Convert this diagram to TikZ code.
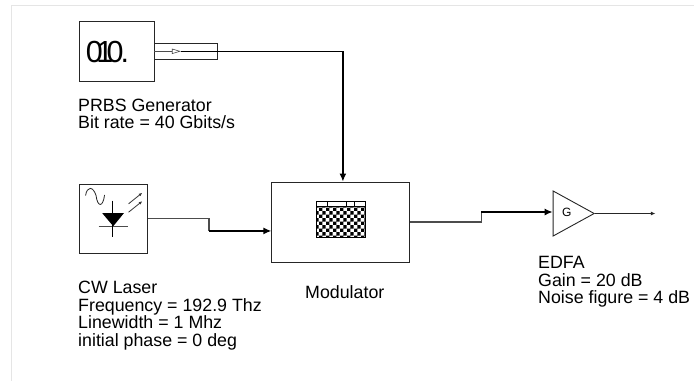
\documentclass[tikz,border=0pt]{standalone}
\usepackage{fontspec}
\setmainfont{Liberation Sans}
\usetikzlibrary{calc,
patterns,
shapes.geometric,
arrows.meta,
positioning}
\pgfdeclarepatternformonly{chipcells}{\pgfqpoint{0pt}{0pt}}{\pgfqpoint{6.8pt}{6.8pt}}{\pgfqpoint{6.8pt}{6.8pt}}{
  \pgfpathrectangle{\pgfqpoint{0pt}{0pt}}{\pgfqpoint{3.4pt}{3.4pt}}
  \pgfpathrectangle{\pgfqpoint{3.4pt}{3.4pt}}{\pgfqpoint{3.4pt}{3.4pt}}
  \pgfusepath{fill}
}

\begin{document}
\begin{tikzpicture} [x=1pt,
    y=1pt,
    >=latex,
    main node/.style={rectangle, draw = black!85, fill = white,
        line width = 0.9pt, inner sep = 0pt},
    main text/.style={align=left, inner sep = 0pt,
        font=\fontsize{17.8}{17.6}\selectfont},
    main line/.style={draw = black!70, line width = 1.2pt},
    thick line/.style={draw = black, line width = 1.8pt,
        >={Latex[length=8pt, width=7pt]}}
  ]

  \useasboundingbox (0, 0) rectangle (694, -381);
  \draw [black!10, line width = 1pt] (11.5, -381) -- (11.5, -5.5) -- (694, -5.5);

  \node [main node,
    minimum width = 75pt,
    minimum height = 60.5pt
  ] (prbs) at (116.5, -51.3) {};

  \node [main node,
    minimum width = 62.4pt,
    minimum height = 16.6pt,
    right = 0pt of prbs
  ] (wrap) {};

  \node [font=\fontsize{30.5}{30.5}\selectfont,
    inner sep = 0pt,
    at = (prbs.center),
    xshift = -9pt,
    yshift = -1pt
  ] (bits) {0\kern-6.5pt1\kern-6.5pt0\kern-3pt.};

  \node [isosceles triangle,
    draw = black!70,
    fill = white,
    line width = 0.6pt,
    inner sep = 0pt,
    minimum width = 4.6pt,
    minimum height = 7.6pt,
    isosceles triangle stretches,
    right = 17.5pt of wrap.west
  ] (pulse) {};

  \node [main node,
    minimum width = 68pt,
    minimum height = 69pt,
    below = 101.5pt of prbs.south west,
    anchor = north west,
    xshift = 0.5pt
  ] (laser) {};

  \node [main node,
    minimum width = 138pt,
    minimum height = 80pt,
    right = 123.5pt of laser.north east,
    anchor = north west,
    yshift = 2pt
  ] (mod) {};

  \node [draw = black, fill = white,
    line width = 0.8pt,
    minimum width = 48.5pt,
    minimum height = 36pt,
    inner sep = 0pt
  ] (chip) at ($(mod.center) + (0, 2.5)$) {};
  \fill [pattern = chipcells] ($(chip.north west) + (0, -5.5)$) rectangle (chip.south east);
  \draw [black, line width = 0.8pt] ($(chip.north west) + (0, -5.5)$) -- ($(chip.north east) + (0, -5.5)$);
  \foreach \x in {10.7, 29.7, 38.3}
    \draw [black, line width = 0.8pt] ($(chip.north west) + (\x, 0)$) -- ($(chip.north west) + (\x, -5.5)$);

  \node [isosceles triangle,
    draw = black!85,
    fill = white,
    line width = 0.9pt,
    inner sep = 0pt,
    minimum width = 45pt,
    minimum height = 41pt,
    isosceles triangle stretches,
    anchor = west
  ] (amp) at (552.7, -213.5) {};
  \node [inner sep = 0pt, font=\fontsize{12}{12}\selectfont] (gain) at (566.7, -212.5) {G};

  %%%%%%%%%%%%%%%%%%%%%%%%%%%%%%

  \begin{scope}[shift={(laser.north west)}, black, line width = 0.8pt]
    \draw [black!85] (6.5, -12) .. controls (8, -2.5) and (14, -2.5) .. (17, -12)
      .. controls (18.5, -24) and (24, -24) .. (25.5, -11.5);
    \fill (23.2, -29.7) -- (44.8, -29.7) -- (34.2, -42.7) -- cycle;
    \draw [black!70] (19.5, -42.7) -- (48.5, -42.7);
    \draw (33.8, -17) -- (33.8, -53.7);
    \draw [->, black!80, >={Latex[length=3.5pt, width=3pt]}] (49.5, -20.3) -- (63.2, -9.3);
    \draw [->, black!80, >={Latex[length=3.5pt, width=3pt]}] (49.5, -28.7) -- (63.2, -17.7);
  \end{scope}

  %%%%%%%%%%%%%%%%%%%%%%%%%%%%%%

  \draw [main line, line width = 0.9pt] (prbs.east) -- (pulse.west);
  \draw [->, thick line, line width = 1.2pt] (pulse.east) -| ($(mod.north) + (2, 0)$);

  \coordinate (laserbend) at ($(laser.east) + (61, 0)$);
  \coordinate (modin) at ($(mod.west) + (0, -9)$);
  \draw [main line] (laser.east) -- (laserbend) -- (laserbend |- modin);
  \draw [->, thick line] (laserbend |- modin) -- (modin);

  \coordinate (modout) at ($(mod.east) + (71, 0)$);
  \coordinate (ampin) at ($(amp.west) + (0, 1.5)$);
  \draw [main line] (mod.east) -- (modout) -- (modout |- ampin);
  \draw [->, thick line] (modout |- ampin) -- (ampin);
  \coordinate (ampout) at ($(amp.east) + (60, 0)$);
  \draw [->, black!85, line width = 0.8pt, >={Latex[length=4.5pt, width=4pt]}] (amp.east) -- (ampout);

  %%%%%%%%%%%%%%%%%%%%%%%%%%%%%%

  \node [main text, anchor = north west] (prbstxt) at (78, -98.5) {PRBS Generator\\Bit rate = 40 Gbits/s};
  \node [main text, anchor = north west] (lasertxt) at (78, -281) {CW Laser\\Frequency = 192.9 Thz\\Linewidth = 1 Mhz\\initial phase = 0 deg};
  \node [main text, anchor = north west] (modtxt) at (305, -285) {Modulator};
  \node [main text, anchor = north west] (amptxt) at (538, -256) {EDFA\\Gain = 20 dB\\Noise figure = 4 dB};

\end{tikzpicture}
\end{document}
